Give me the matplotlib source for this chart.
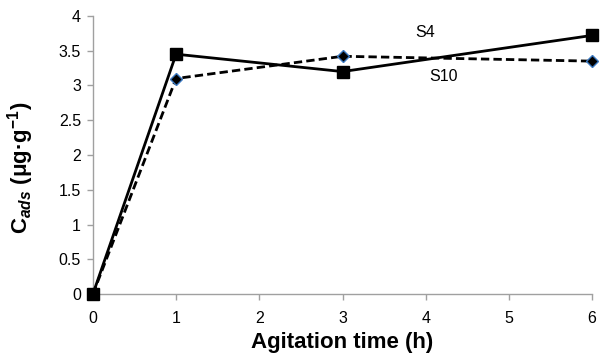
import matplotlib.pyplot as plt

plt.rcParams['font.family'] = ['Liberation Sans', 'DejaVu Sans']
plt.rcParams['mathtext.fontset'] = 'custom'
plt.rcParams['mathtext.rm'] = 'Liberation Sans:bold'
plt.rcParams['mathtext.it'] = 'Liberation Sans:bold:italic'

# agitation time (h) and adsorbed amount for the two samples
time_h = [0, 1, 3, 6]
s4 = [0, 3.45, 3.2, 3.72]
s10 = [0, 3.1, 3.42, 3.35]

fig = plt.figure(figsize=(6.03, 3.54), dpi=100)
ax = fig.add_axes([0.154, 0.169, 0.828, 0.786])

ax.plot(time_h, s10, color='black', linestyle='--', linewidth=2, dashes=(3, 1.5),
        marker='D', markersize=6, markerfacecolor='black',
        markeredgecolor='#3a78c0', markeredgewidth=1, zorder=3, clip_on=False)
ax.plot(time_h, s4, color='black', linestyle='-', linewidth=2,
        marker='s', markersize=8.5, markerfacecolor='black',
        markeredgecolor='black', zorder=4, clip_on=False)

ax.text(3.99, 3.76, 'S4', fontsize=11.5, ha='center', va='center')
ax.text(4.21, 3.13, 'S10', fontsize=11.5, ha='center', va='center')

ax.set_xlim(0, 6)
ax.set_ylim(0, 4)
ax.set_xticks(range(0, 7))
ax.set_yticks([0, 0.5, 1, 1.5, 2, 2.5, 3, 3.5, 4])
ax.set_yticklabels(['0', '0.5', '1', '1.5', '2', '2.5', '3', '3.5', '4'])

for side in ['top', 'right']:
    ax.spines[side].set_visible(False)
for side in ['left', 'bottom']:
    ax.spines[side].set_color('#a0a0a0')
    ax.spines[side].set_linewidth(1)

ax.tick_params(axis='both', colors='#a0a0a0', labelcolor='black', labelsize=11.5,
               length=4, width=1, direction='out')
ax.tick_params(axis='x', pad=8)
ax.tick_params(axis='y', pad=4.5)

ax.set_xlabel('Agitation time (h)', fontsize=16, fontweight='bold')
ax.xaxis.set_label_coords(0.5, -0.135)
ax.set_ylabel(r'C$_{ads}$ (μg·g$^{\mathregular{-1}}$)', fontsize=16, fontweight='bold')
ax.yaxis.set_label_coords(-0.113, 0.453)

fig.savefig('out.png', dpi=100)
